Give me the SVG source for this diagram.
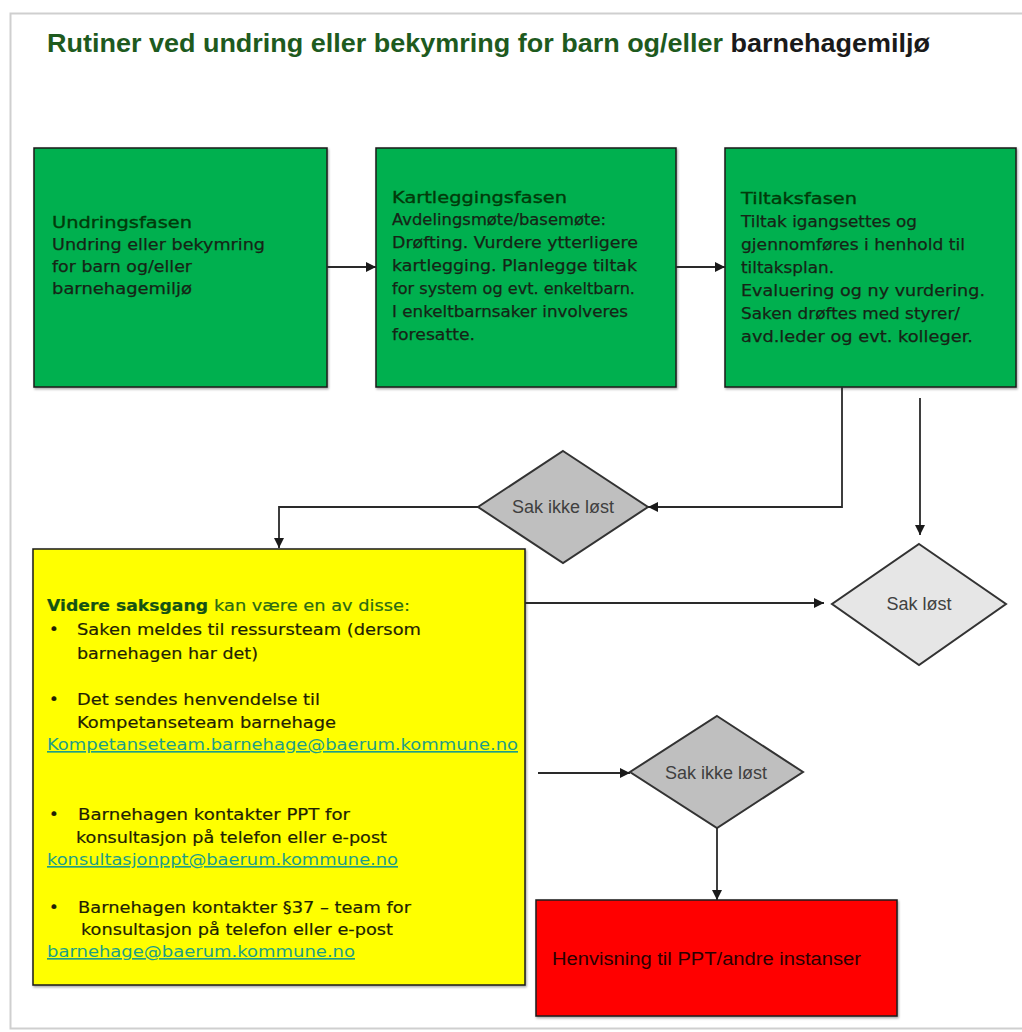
<svg xmlns="http://www.w3.org/2000/svg" width="1022" height="1032" viewBox="0 0 1022 1032">
<defs>
<marker id="ah" viewBox="0 0 10 10" refX="10" refY="5" markerWidth="10" markerHeight="10" markerUnits="userSpaceOnUse" orient="auto">
<path d="M0,0 L10,5 L0,10 z" fill="#1a1a1a"/>
</marker>
<filter id="sh" x="-5%" y="-5%" width="110%" height="110%">
<feDropShadow dx="1" dy="1.5" stdDeviation="1" flood-color="#000" flood-opacity="0.35"/>
</filter>
</defs>
<style>
.box{stroke:#1a1a1a;stroke-width:1.5}
.green{fill:#00b050}
.yellow{fill:#ffff00}
.red{fill:#ff0000}
.dia{stroke:#333;stroke-width:2}
.t{font-family:"DejaVu Sans",Verdana,sans-serif;font-size:16.5px;fill:#162416;stroke:#162416;stroke-width:0.25}
.h{fill:#023a0a;stroke:#023a0a;stroke-width:0.35}
.y{font-family:"DejaVu Sans",Verdana,sans-serif;font-size:16.5px;fill:#1f1f05;stroke:#1f1f05;stroke-width:0.2}
.link{fill:#1e9e86;stroke:none;text-decoration:underline}
.dl{font-family:"Liberation Sans",Arial,sans-serif;font-size:17.5px;fill:#404040}
.conn{fill:none;stroke:#2a2a2a;stroke-width:1.8}
</style>
<rect x="0" y="0" width="1022" height="1032" fill="#ffffff"/>
<rect x="10.5" y="13.5" width="1030" height="1015" fill="#ffffff" stroke="#cfcfcf" stroke-width="2"/>

<g id="title">
<text x="47" y="52" font-family="'Liberation Sans',Arial,sans-serif" font-size="26" font-weight="bold" textLength="883" lengthAdjust="spacingAndGlyphs" fill="#1e5a1e">Rutiner ved undring eller bekymring for barn og/eller <tspan fill="#1a1a1a">barnehagemiljø</tspan></text>
</g>

<g id="node-undringsfasen">
<rect class="box green" x="34" y="148" width="293" height="239" filter="url(#sh)"/>
<text class="t h" x="52" y="228" textLength="140" lengthAdjust="spacingAndGlyphs">Undringsfasen</text>
<text class="t" x="52" y="250" textLength="213" lengthAdjust="spacingAndGlyphs">Undring eller bekymring</text>
<text class="t" x="52" y="272" textLength="140" lengthAdjust="spacingAndGlyphs">for barn og/eller</text>
<text class="t" x="52" y="294" textLength="140" lengthAdjust="spacingAndGlyphs">barnehagemiljø</text>
</g>

<g id="node-kartleggingsfasen">
<rect class="box green" x="376" y="148" width="300" height="239" filter="url(#sh)"/>
<text class="t h" x="392" y="203" textLength="175" lengthAdjust="spacingAndGlyphs">Kartleggingsfasen</text>
<text class="t" x="392" y="225" textLength="214" lengthAdjust="spacingAndGlyphs">Avdelingsmøte/basemøte:</text>
<text class="t" x="392" y="248" textLength="246" lengthAdjust="spacingAndGlyphs">Drøfting. Vurdere ytterligere</text>
<text class="t" x="392" y="271" textLength="245" lengthAdjust="spacingAndGlyphs">kartlegging. Planlegge tiltak</text>
<text class="t" x="392" y="294" textLength="243" lengthAdjust="spacingAndGlyphs">for system og evt. enkeltbarn.</text>
<text class="t" x="392" y="317" textLength="236" lengthAdjust="spacingAndGlyphs">I enkeltbarnsaker involveres</text>
<text class="t" x="392" y="340" textLength="83" lengthAdjust="spacingAndGlyphs">foresatte.</text>
</g>

<g id="node-tiltaksfasen">
<rect class="box green" x="725" y="148" width="291" height="239" filter="url(#sh)"/>
<text class="t h" x="741" y="204" textLength="116" lengthAdjust="spacingAndGlyphs">Tiltaksfasen</text>
<text class="t" x="741" y="227" textLength="176" lengthAdjust="spacingAndGlyphs">Tiltak igangsettes og</text>
<text class="t" x="741" y="250" textLength="224" lengthAdjust="spacingAndGlyphs">gjennomføres i henhold til</text>
<text class="t" x="741" y="273" textLength="93" lengthAdjust="spacingAndGlyphs">tiltaksplan.</text>
<text class="t" x="741" y="296" textLength="244" lengthAdjust="spacingAndGlyphs">Evaluering og ny vurdering.</text>
<text class="t" x="741" y="319" textLength="219" lengthAdjust="spacingAndGlyphs">Saken drøftes med styrer/</text>
<text class="t" x="741" y="342" textLength="232" lengthAdjust="spacingAndGlyphs">avd.leder og evt. kolleger.</text>
</g>

<g id="node-sak-ikke-lost-1">
<polygon class="dia" points="563,451 648,507 563,563 478,507" fill="#bfbfbf"/>
<text class="dl" x="563" y="513" text-anchor="middle" textLength="102" lengthAdjust="spacingAndGlyphs">Sak ikke løst</text>
</g>

<g id="node-sak-lost">
<polygon class="dia" points="919,544 1006,604 919,665 832,604" fill="#e6e6e6"/>
<text class="dl" x="919" y="610" text-anchor="middle" textLength="65" lengthAdjust="spacingAndGlyphs">Sak løst</text>
</g>

<g id="node-videre-saksgang">
<rect class="box yellow" x="33" y="549" width="492" height="436" filter="url(#sh)"/>
<text class="y" x="47" y="611" font-weight="bold" textLength="161" lengthAdjust="spacingAndGlyphs" style="fill:#145214;stroke:#145214">Videre saksgang</text>
<text class="y" x="214" y="611" textLength="196" lengthAdjust="spacingAndGlyphs" style="fill:#2a6a14;stroke:#2a6a14">kan være en av disse:</text>
<text class="y" x="49" y="635">•</text>
<text class="y" x="77" y="635" textLength="344" lengthAdjust="spacingAndGlyphs">Saken meldes til ressursteam (dersom</text>
<text class="y" x="77" y="659" textLength="181" lengthAdjust="spacingAndGlyphs">barnehagen har det)</text>
<text class="y" x="49" y="705">•</text>
<text class="y" x="77" y="705" textLength="243" lengthAdjust="spacingAndGlyphs">Det sendes henvendelse til</text>
<text class="y" x="77" y="728" textLength="259" lengthAdjust="spacingAndGlyphs">Kompetanseteam barnehage</text>
<text class="y link" x="47" y="750" textLength="471" lengthAdjust="spacingAndGlyphs">Kompetanseteam.barnehage@baerum.kommune.no</text>
<text class="y" x="49" y="820">•</text>
<text class="y" x="78" y="820" textLength="272" lengthAdjust="spacingAndGlyphs">Barnehagen kontakter PPT for</text>
<text class="y" x="76" y="843" textLength="311" lengthAdjust="spacingAndGlyphs">konsultasjon på telefon eller e-post</text>
<text class="y link" x="47" y="865" textLength="351" lengthAdjust="spacingAndGlyphs">konsultasjonppt@baerum.kommune.no</text>
<text class="y" x="49" y="913">•</text>
<text class="y" x="78" y="913" textLength="333" lengthAdjust="spacingAndGlyphs">Barnehagen kontakter §37 – team for</text>
<text class="y" x="81" y="935" textLength="312" lengthAdjust="spacingAndGlyphs">konsultasjon på telefon eller e-post</text>
<text class="y link" x="47" y="957" textLength="308" lengthAdjust="spacingAndGlyphs">barnehage@baerum.kommune.no</text>
</g>

<g id="node-sak-ikke-lost-2">
<polygon class="dia" points="717,716 803,772 717,828 630,772" fill="#bfbfbf"/>
<text class="dl" x="716" y="779" text-anchor="middle" textLength="102" lengthAdjust="spacingAndGlyphs">Sak ikke løst</text>
</g>

<g id="node-henvisning">
<rect class="box red" x="536" y="900" width="361" height="116" filter="url(#sh)"/>
<text x="552" y="965" font-family="'Liberation Sans',Arial,sans-serif" font-size="17.5" fill="#2a0000" textLength="309" lengthAdjust="spacingAndGlyphs">Henvisning til PPT/andre instanser</text>
</g>

<g id="connectors">
<path class="conn" d="M327,267 H376" marker-end="url(#ah)"/>
<path class="conn" d="M676,267 H725" marker-end="url(#ah)"/>
<path class="conn" d="M842,387 V507 H648" marker-end="url(#ah)"/>
<path class="conn" d="M920,398 V535" marker-end="url(#ah)"/>
<path class="conn" d="M478,507 H279 V548" marker-end="url(#ah)"/>
<path class="conn" d="M525,603 H824" marker-end="url(#ah)"/>
<path class="conn" d="M538,773 H630" marker-end="url(#ah)"/>
<path class="conn" d="M717,828 V900" marker-end="url(#ah)"/>
</g>
</svg>
